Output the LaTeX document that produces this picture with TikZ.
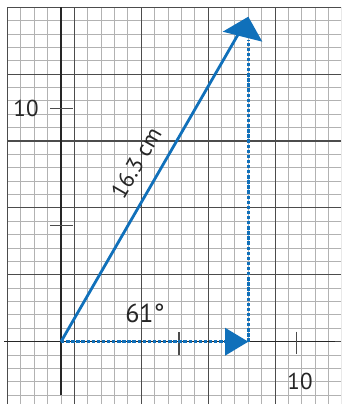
\documentclass[tikz,border=0pt]{standalone}
\usepackage{fontspec}
\setmainfont{PT Sans}
\begin{document}
\begin{tikzpicture}[x=1pt,y=-1pt,
  fineline/.style={draw=black!30, line width=0.9pt},
  thickline/.style={draw=black!70, line width=1.1pt},
  axisline/.style={draw=black!85, line width=1.2pt},
  tickline/.style={draw=black!70, line width=1.3pt},
  vec/.style={draw=vblue, line width=2.8pt},
  dashvec/.style={draw=vblue, line width=2.5pt, dash pattern=on 3.4pt off 1.7pt},
  head/.style={fill=vblue, draw=none},
  lab/.style={font=\fontsize{23}{23}\selectfont, text=black!85, inner sep=0pt}
]
\definecolor{vblue}{RGB}{16,112,186}
\useasboundingbox (0,0) rectangle (341,404);
\fill[white] (0,0) rectangle (341,404);
% grid
\begin{scope}
\clip (0,0) rectangle (341,404);
\foreach \i in {0,...,25} {
  \draw[fineline] ({7.48+\i*13.38},7.2) -- ({7.48+\i*13.38},404);
}
\foreach \j in {0,...,29} {
  \draw[fineline] (7.48,{7.2+\j*13.38}) -- (341,{7.2+\j*13.38});
}
\foreach \i in {0,5,10,15,20,25} {
  \draw[thickline] ({7.48+\i*13.38},7.2) -- ({7.48+\i*13.38},404);
}
\foreach \j in {0,5,10,15,20,25} {
  \draw[thickline] (7.48,{7.2+\j*13.38}) -- (341,{7.2+\j*13.38});
}
\end{scope}
% axes
\coordinate (O) at (61,341.7);
\coordinate (xa) at (4,341.7);
\coordinate (xb) at (335,341.7);
\coordinate (ya) at (61,7.2);
\coordinate (yb) at (61,395);
\draw[axisline] (xa) -- (xb);
\draw[axisline] (ya) -- (yb);
% ticks
\coordinate (tx5a) at (179,332); \coordinate (tx5b) at (179,355);
\coordinate (tx10a) at (296.7,331.5); \coordinate (tx10b) at (296.7,353.5);
\coordinate (ty5a) at (50,225.5); \coordinate (ty5b) at (72.5,225.5);
\coordinate (ty10a) at (50,108.3); \coordinate (ty10b) at (72.5,108.3);
\draw[tickline] (tx5a) -- (tx5b);
\draw[tickline] (tx10a) -- (tx10b);
\draw[tickline] (ty5a) -- (ty5b);
\draw[tickline] (ty10a) -- (ty10b);
% labels
\node[lab] (ly10) at (26,108.5) {10};
\node[lab] (lx10) at (300,381.5) {10};
% vectors
\coordinate (P) at (248.3,16.7);
\coordinate (Q) at (248.3,341.7);
\coordinate (Pl) at (222.7,31.7);
\coordinate (Pr) at (262.3,41.7);
\coordinate (Qt) at (225,327.7);
\coordinate (Qb) at (225,355.7);
\draw[dashvec] (Q) -- (248.3,40);
\draw[dashvec] (O) -- (225,341.7);
\draw[vec, shorten >=14pt] (O) -- (P);
\fill[head] (P) -- (Pl) -- (Pr) -- cycle;
\fill[head] (Q) -- (Qt) -- (Qb) -- cycle;
\node[lab, rotate=60] (len) at (136,163) {16.3 cm};
\node[lab, font=\fontsize{26}{26}\selectfont] (ang) at (145,313) {61°};
\end{tikzpicture}
\end{document}
